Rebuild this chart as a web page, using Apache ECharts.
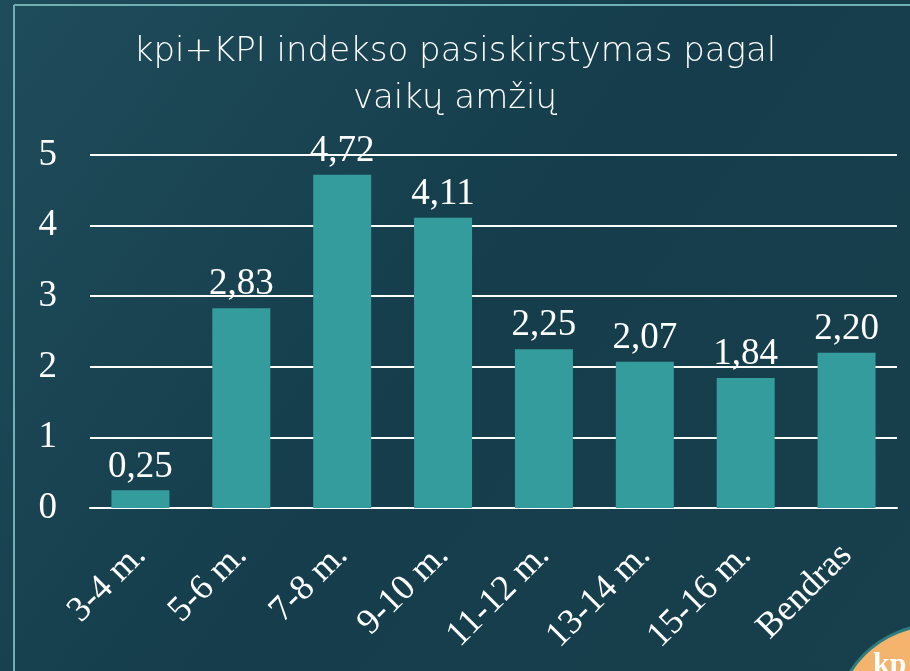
<!DOCTYPE html>
<html>
<head>
<meta charset="utf-8">
<script src="https://cdn.jsdelivr.net/npm/echarts@6/dist/echarts.min.js"></script>
<style>
  html, body { margin: 0; padding: 0; background: #173f4d; }
  #main { width: 910px; height: 671px; }
</style>
</head>
<body>
<div id="main"></div>
<script>
const categories = ['3-4 m.', '5-6 m.', '7-8 m.', '9-10 m.', '11-12 m.', '13-14 m.', '15-16 m.', 'Bendras'];
const values = [0.25, 2.83, 4.72, 4.11, 2.25, 2.07, 1.84, 2.20];
const yTicks = [0, 1, 2, 3, 4, 5];

const chart = echarts.init(document.getElementById('main'));

const serif = '"Liberation Serif", "DejaVu Serif", serif';

let option = {
    backgroundColor: {
        type: 'linear', x: 0, y: 0, x2: 1, y2: 1,
        colorStops: [
            {offset: 0, color: '#1f4c5b'},
            {offset: 0.5, color: '#153d4b'},
            {offset: 1, color: '#173f4c'}
        ]
    },
    title: {
        text: 'kpi+KPI indekso pasiskirstymas pagal\nvaikų amžių',
        left: 'center',
        top: 24,
        textStyle: {
            color: '#ffffff',
            fontFamily: '"DejaVu Sans", sans-serif',
            fontWeight: 200,
            fontSize: 34,
            lineHeight: 47
        }
    },
    grid: {
        left: 90,
        right: 13,
        top: 155,
        bottom: 163
    },
    xAxis: {
        type: 'category',
        data: categories,
        axisLine: {lineStyle: {color: '#ffffff', width: 2}},
        axisTick: {show: false},
        axisLabel: {
            rotate: 45,
            color: '#ffffff',
            fontFamily: serif,
            fontSize: 36,
            margin: 42,
            interval: 0
        }
    },
    yAxis: {
        type: 'value',
        min: yTicks[0],
        max: yTicks[yTicks.length - 1],
        interval: 1,
        axisLine: {show: false},
        axisTick: {show: false},
        axisLabel: {
            color: '#ffffff',
            fontFamily: serif,
            fontSize: 37,
            margin: 33
        },
        splitLine: {lineStyle: {color: '#ffffff', width: 2}}
    },
    series: [{
        type: 'bar',
        data: values,
        barWidth: 58,
        itemStyle: {color: '#359c9e'},
        label: {
            show: true,
            position: 'top',
            distance: 5,
            color: '#ffffff',
            fontFamily: serif,
            fontSize: 37,
            formatter: p => p.value.toFixed(2).replace('.', ',')
        }
    }],
    graphic: [
        {
            type: 'line',
            shape: {x1: 14, y1: 5, x2: 910, y2: 5},
            style: {stroke: '#6fb0b2', lineWidth: 2}
        },
        {
            type: 'line',
            shape: {x1: 14, y1: 5, x2: 14, y2: 671},
            style: {stroke: '#6fb0b2', lineWidth: 2}
        },
        {
            type: 'circle',
            shape: {cx: 935, cy: 725, r: 100},
            style: {fill: '#f4b46e', stroke: '#2a7d7d', lineWidth: 3}
        },
        {
            type: 'text',
            left: 873,
            top: 650,
            style: {
                text: 'kp',
                fill: '#ffffff',
                font: 'bold 30px ' + serif
            }
        }
    ]
};

chart.setOption(option);
</script>
</body>
</html>
